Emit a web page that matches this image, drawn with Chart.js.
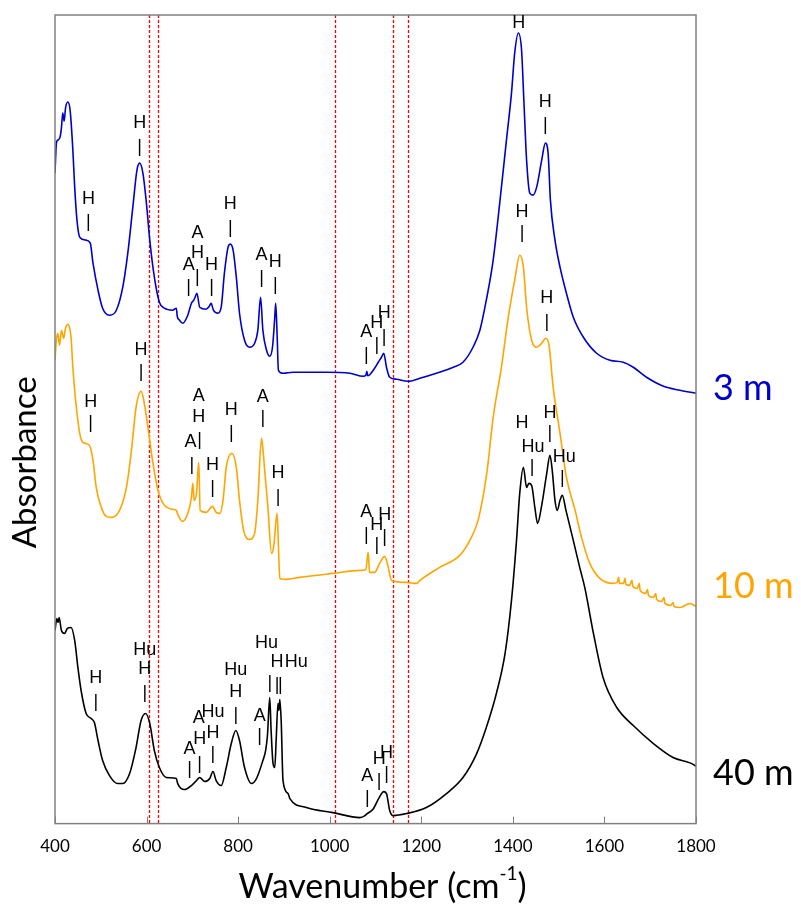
<!DOCTYPE html>
<html>
<head>
<meta charset="utf-8">
<script src="https://cdn.jsdelivr.net/npm/chart.js@4.4.1/dist/chart.umd.min.js"></script>
<style>
html,body{margin:0;padding:0;background:#fff;}
canvas{display:block;}
</style>
</head>
<body>
<canvas id="c" width="801" height="904"></canvas>
<script>
// ---------- data (wavenumber in cm-1, absorbance in arbitrary offset units) ----------
const xTicks = [400, 600, 800, 1000, 1200, 1400, 1600, 1800];
const seriesNames = ["3 m", "10 m", "40 m"];
const labelAbs = [4.35, 2.37, 0.50];
const refLines = [606, 626, 1012, 1138, 1172];

const blueWn  = [400,403,406,411,414,417,420,423,428,433,439,443,448,454,468,477,483,494,504,519,534,548,559,570,579,585,592,599,607,617,628,639,657,665,667,672,679,690,698,703,706,710,716,730,737,741,746,756,763,770,778,783,789,796,803,814,825,836,843,849,854,862,869,875,880,882,885,888,898,920,993,1044,1073,1079,1081,1083,1098,1106,1113,1118,1124,1131,1146,1171,1197,1233,1270,1291,1313,1328,1342,1357,1372,1386,1397,1404,1412,1419,1424,1430,1437,1444,1452,1463,1471,1477,1482,1492,1503,1517,1532,1554,1583,1612,1641,1663,1692,1729,1765,1800];
const blueAbs = [6.50,6.80,6.83,6.86,6.95,7.10,7.02,7.15,7.21,7.13,6.73,6.36,6.03,5.86,5.83,5.80,5.60,5.33,5.15,5.08,5.13,5.36,5.70,6.16,6.53,6.60,6.50,6.23,5.83,5.46,5.21,5.15,5.13,5.15,5.07,5.03,5.00,5.08,5.20,5.23,5.26,5.30,5.16,5.14,5.17,5.20,5.13,5.10,5.16,5.50,5.76,5.79,5.73,5.46,5.10,4.83,4.76,4.80,4.93,5.26,4.93,4.73,4.67,4.76,5.06,5.20,4.90,4.53,4.50,4.51,4.51,4.50,4.47,4.48,4.52,4.475,4.55,4.61,4.66,4.70,4.56,4.46,4.44,4.42,4.45,4.50,4.56,4.61,4.76,4.93,5.23,5.63,6.23,6.83,7.30,7.70,7.90,7.73,7.23,6.63,6.30,6.28,6.36,6.63,6.80,6.70,6.23,5.83,5.56,5.30,5.06,4.86,4.70,4.63,4.61,4.56,4.46,4.37,4.33,4.30];

const orangeWn  = [400,403,406,410,414,419,423,428,432,435,439,445,454,461,475,483,490,501,512,523,541,556,567,577,588,593,603,614,625,636,657,665,668,679,690,698,701,704,709,714,717,730,744,752,760,767,774,786,796,803,812,825,836,843,851,854,858,865,873,878,885,888,891,905,934,1007,1066,1079,1084,1087,1098,1109,1120,1127,1135,1168,1190,1197,1240,1284,1306,1324,1343,1357,1375,1390,1404,1415,1423,1430,1441,1452,1463,1472,1479,1488,1503,1517,1536,1550,1568,1590,1619,1628,1631,1633,1642,1645,1647,1655,1660,1662,1672,1676,1678,1690,1694,1696,1707,1712,1714,1725,1730,1732,1745,1750,1752,1765,1787,1800];
const orangeAbs = [4.63,4.83,4.90,4.78,4.93,4.85,4.95,4.99,4.95,4.86,4.56,4.23,3.90,3.81,3.78,3.63,3.36,3.16,3.07,3.06,3.13,3.36,3.73,4.16,4.32,4.25,3.96,3.60,3.33,3.20,3.14,3.13,3.09,3.02,3.10,3.26,3.40,3.23,3.30,3.61,3.13,3.11,3.17,3.11,3.10,3.23,3.56,3.70,3.56,3.23,2.93,2.84,2.90,3.23,3.85,3.75,3.53,3.16,2.70,2.78,3.10,2.78,2.45,2.44,2.46,2.50,2.53,2.54,2.71,2.51,2.51,2.60,2.67,2.58,2.43,2.41,2.40,2.43,2.56,2.68,2.83,3.03,3.50,4.06,4.56,5.06,5.43,5.68,5.56,5.16,4.83,4.76,4.80,4.85,4.78,4.36,3.90,3.46,3.13,2.86,2.60,2.45,2.40,2.41,2.46,2.40,2.40,2.45,2.39,2.38,2.43,2.37,2.35,2.40,2.33,2.30,2.34,2.28,2.26,2.30,2.24,2.22,2.26,2.20,2.18,2.21,2.17,2.16,2.20,2.17];

const blackWn  = [400,404,407,409,414,421,427,435,443,450,457,468,479,486,494,504,519,537,548,563,577,588,598,607,617,628,643,665,668,683,698,709,716,727,738,745,752,763,774,785,795,803,814,829,840,854,860,864,869,872,876,880,883,887,889,891,894,898,909,913,949,1007,1066,1077,1082,1094,1108,1118,1124,1131,1138,1168,1211,1255,1291,1321,1342,1364,1383,1397,1408,1415,1423,1430,1435,1441,1448,1454,1463,1474,1481,1486,1492,1497,1503,1508,1516,1532,1546,1557,1576,1597,1627,1663,1707,1750,1798,1800];
const blackAbs = [1.93,2.05,2.01,2.06,1.93,1.90,1.95,1.96,1.83,1.56,1.33,1.10,1.05,1.01,0.83,0.63,0.48,0.40,0.40,0.50,0.76,1.03,1.10,1.00,0.73,0.56,0.46,0.45,0.40,0.34,0.38,0.43,0.46,0.42,0.45,0.52,0.43,0.38,0.56,0.80,0.93,0.83,0.56,0.40,0.45,0.63,0.73,0.88,1.26,0.93,0.61,0.56,0.83,1.20,1.13,1.24,1.03,0.43,0.30,0.25,0.16,0.11,0.06,0.08,0.10,0.14,0.26,0.32,0.30,0.13,0.08,0.10,0.16,0.30,0.46,0.70,0.96,1.30,1.70,2.23,2.83,3.30,3.56,3.36,3.40,3.38,3.16,3.00,3.18,3.50,3.68,3.53,3.23,3.13,3.23,3.28,3.13,2.83,2.56,2.36,1.90,1.46,1.16,0.98,0.80,0.66,0.58,0.57];

// peak assignment labels (text, wavenumber, absorbance position)
const annText = ["H","|","H","|","A","H","|","A","|","H","|","H","|","A","|","H","|","A","|","H","|","H","|","H","H","|",
  "H","|","H","|","A","H","|","A","|","H","|","H","|","A","|","H","|","A","|","H","|","H","|","H","|","H","|",
  "H","|","Hu","H","|","A","H","|","A","|","Hu","H","|","Hu","H","|","A","|","Hu","|","H","|","Hu","|","A","|","H","|","H","|","H","Hu","|","H","|","Hu","|"];
const annWn = [585,585,473,473,711,711,711,692,692,742,742,783,783,851,851,881,881,1080,1080,1103,1103,1119,1119,1413,1471,1471,
  588,588,478,478,714,714,716,696,699,744,744,785,785,854,854,887,887,1080,1080,1103,1103,1120,1120,1420,1420,1474,1474,
  489,489,596,596,596,714,716,716,694,694,745,745,745,795,795,795,847,847,862,869,885,885,927,892,1082,1082,1108,1108,1124,1124,1420,1444,1442,1481,1481,1512,1508];
const annAbs = [7.00,6.76,6.24,6.01,5.90,5.70,5.46,5.58,5.36,5.58,5.36,6.19,5.95,5.68,5.45,5.61,5.38,4.91,4.68,5.00,4.78,5.10,4.86,8.00,7.21,6.98,
  4.73,4.51,4.21,4.00,4.27,4.06,3.83,3.81,3.58,3.58,3.35,4.13,3.90,4.26,4.05,3.50,3.26,3.11,2.88,2.98,2.78,3.08,2.86,6.11,5.90,5.25,5.01,
  1.45,1.21,1.73,1.54,1.30,1.05,0.85,0.60,0.75,0.55,1.11,0.91,0.70,1.53,1.31,1.08,1.07,0.88,1.80,1.40,1.61,1.38,1.61,1.38,0.48,0.26,0.65,0.43,0.71,0.50,4.00,3.76,3.56,4.10,3.90,3.66,3.45];

const seriesColors = ["#0000cc", "#ffa500", "#000000"];

// ---------- build ----------
function pts(xs, ys){ return xs.map((x,i)=>({x:x, y:ys[i]})); }

const deco = {
  id: 'deco',
  beforeDatasetsDraw(chart){
    const {ctx, chartArea:a, scales:{x}} = chart;
    ctx.save();
    ctx.strokeStyle = '#ff0000';
    ctx.lineWidth = 1.3;
    ctx.setLineDash([3,2]);
    refLines.forEach(v=>{
      const px = Math.round(x.getPixelForValue(v)) + 0.5;
      ctx.beginPath(); ctx.moveTo(px, a.top); ctx.lineTo(px, a.bottom); ctx.stroke();
    });
    ctx.restore();
  },
  afterDatasetsDraw(chart){
    const {ctx, chartArea:a, scales:{x, y}} = chart;
    ctx.save();
    // frame
    ctx.strokeStyle = '#808080';
    ctx.lineWidth = 1.5;
    ctx.strokeRect(a.left, a.top, a.right - a.left, a.bottom - a.top);
    // inward ticks
    ctx.lineWidth = 1;
    xTicks.forEach(v=>{
      const px = Math.round(x.getPixelForValue(v)) + 0.5;
      ctx.beginPath(); ctx.moveTo(px, a.bottom); ctx.lineTo(px, a.bottom - 7); ctx.stroke();
    });
    // peak labels
    ctx.fillStyle = '#000';
    ctx.textAlign = 'center';
    ctx.textBaseline = 'middle';
    ctx.font = '18px "Liberation Sans", Arial, sans-serif';
    annText.forEach((t,i)=>{
      ctx.fillText(t, x.getPixelForValue(annWn[i]), y.getPixelForValue(annAbs[i]));
    });
    // series labels
    ctx.textAlign = 'left';
    ctx.font = '36px Lato, sans-serif';
    seriesNames.forEach((s,i)=>{
      ctx.fillStyle = seriesColors[i];
      ctx.fillText(s, a.right + 17, y.getPixelForValue(labelAbs[i]));
    });
    // axis titles
    ctx.fillStyle = '#000';
    const main = 'Wavenumber (cm';
    ctx.font = '34px Lato, sans-serif';
    const w1 = ctx.measureText(main).width;
    ctx.font = '19px Lato, sans-serif';
    const w2 = ctx.measureText('-1').width;
    ctx.font = '34px Lato, sans-serif';
    const w3 = ctx.measureText(')').width;
    const cx = (a.left + a.right) / 2 + 7;
    let sx = cx - (w1 + w2 + w3) / 2;
    const ty = a.bottom + 63;
    ctx.textAlign = 'left';
    ctx.fillText(main, sx, ty);
    ctx.font = '19px Lato, sans-serif';
    ctx.fillText('-1', sx + w1, ty - 13);
    ctx.font = '34px Lato, sans-serif';
    ctx.fillText(')', sx + w1 + w2, ty);
    ctx.save();
    ctx.font = '33px Lato, sans-serif';
    ctx.translate(25, (a.top + a.bottom) / 2 + 43);
    ctx.rotate(-Math.PI / 2);
    ctx.textAlign = 'center';
    ctx.fillText('Absorbance', 0, 0);
    ctx.restore();
    ctx.restore();
  }
};

new Chart(document.getElementById('c'), {
  type: 'line',
  data: {
    datasets: [
      {label: seriesNames[0], data: pts(blueWn, blueAbs), borderColor: seriesColors[0], borderWidth: 1.6},
      {label: seriesNames[1], data: pts(orangeWn, orangeAbs), borderColor: seriesColors[1], borderWidth: 1.6},
      {label: seriesNames[2], data: pts(blackWn, blackAbs), borderColor: seriesColors[2], borderWidth: 1.6}
    ]
  },
  options: {
    responsive: false,
    animation: false,
    devicePixelRatio: 1,
    elements: { point: { radius: 0 }, line: { cubicInterpolationMode: 'monotone' } },
    layout: { padding: { left: 55, top: 15, right: 105, bottom: 34 } },
    plugins: { legend: { display: false }, tooltip: { enabled: false } },
    scales: {
      x: {
        type: 'linear', min: 400, max: 1800,
        afterBuildTicks: (s) => { s.ticks = xTicks.map(v => ({value: v})); },
        grid: { display: false, drawTicks: false },
        border: { display: false },
        ticks: { color: '#000', padding: 13, font: { family: 'Lato, sans-serif', size: 17 },
                 callback: (v) => String(v) }
      },
      y: { display: false, min: 0, max: 8.08 }
    }
  },
  plugins: [deco]
});
</script>
</body>
</html>
